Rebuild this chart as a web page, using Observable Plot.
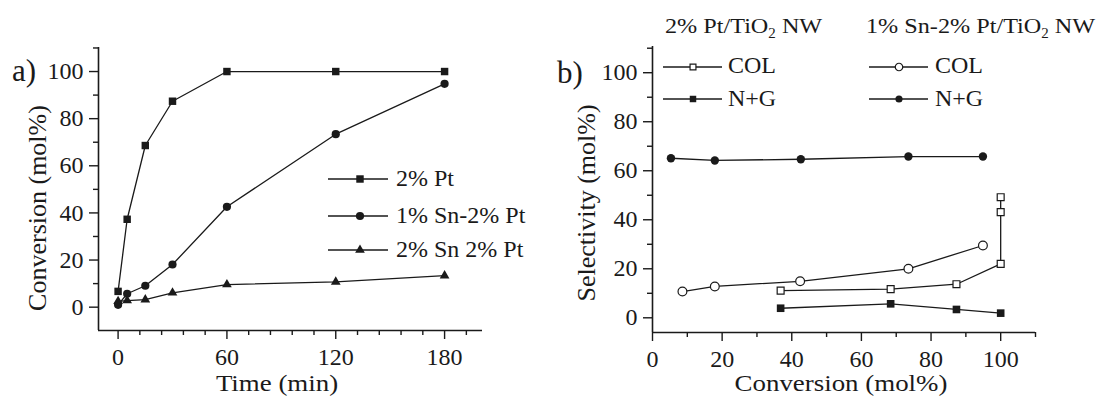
<!DOCTYPE html>
<html><head><meta charset="utf-8">
<script src="https://cdn.jsdelivr.net/npm/d3@7"></script>
<script src="https://cdn.jsdelivr.net/npm/@observablehq/plot@0.6"></script>
<style>
body{margin:0;background:#fff;}
#fig{position:relative;width:1111px;height:396px;font-family:"Liberation Serif","Times New Roman",Times,serif;color:#1a1a1a;overflow:hidden;background:#fff}
.abs{position:absolute;white-space:nowrap;line-height:1}
#fig svg.plt{position:absolute;top:0}
</style></head><body><div id="fig"></div>
<script>
// ---------- Panel a: conversion vs time ----------
const times = [0, 5, 15, 30, 60, 120, 180];
const seriesA = ["2% Pt", "1% Sn-2% Pt", "2% Sn 2% Pt"];
const convPt2 = [6.7, 37.3, 68.6, 87.4, 100, 100, 100];
const convSn1Pt2 = [1.0, 5.7, 9.1, 18.1, 42.6, 73.4, 94.8];
const convSn2Pt2 = [2.5, 2.8, 3.2, 6.1, 9.6, 10.7, 13.4];
const symbolsA = ["square", "circle", "triangle"];
const xTicksA = [0, 60, 120, 180];
const yTicks = [0, 20, 40, 60, 80, 100];

// ---------- Panel b: selectivity vs conversion ----------
const catalystsB = ["2% Pt/TiO2 NW", "1% Sn-2% Pt/TiO2 NW"];
const productsB = ["COL", "N+G"];
const ptColX = [36.8, 68.4, 87.3, 100, 100, 100];
const ptColY = [11.1, 11.7, 13.7, 22.0, 43.1, 49.2];
const ptNgX = [36.8, 68.4, 87.3, 100];
const ptNgY = [3.9, 5.7, 3.4, 1.9];
const snColX = [8.6, 17.9, 42.4, 73.5, 94.9];
const snColY = [10.7, 12.8, 14.9, 20.0, 29.5];
const snNgX = [5.3, 17.9, 42.6, 73.5, 94.9];
const snNgY = [65.1, 64.2, 64.7, 65.8, 65.8];
const xTicksB = [0, 20, 40, 60, 80, 100];

const ink = "#1a1a1a";
const serif = '"Liberation Serif","Times New Roman",Times,serif';
const fig = document.getElementById("fig");

function axes(xd, yd, xMajor, xMinor, yMajor, yMinor) {
  const common = {stroke: ink, strokeWidth: 1.4, label: null};
  return [
    Plot.axisX({...common, ticks: xMinor, tickSize: 5, tickFormat: () => ""}),
    Plot.axisX({...common, ticks: xMajor, tickSize: 9, tickPadding: 8, tickFormat: d => String(d), fill: ink}),
    Plot.axisY({...common, ticks: yMinor, tickSize: 5, tickFormat: () => ""}),
    Plot.axisY({...common, ticks: yMajor, tickSize: 9, tickPadding: 6, tickFormat: d => String(d), fill: ink}),
    Plot.ruleX([xd[0]], {stroke: ink, strokeWidth: 1.6}),
    Plot.ruleY([yd[0]], {stroke: ink, strokeWidth: 1.6})
  ];
}
const range = (a, b, s) => d3.range(a, b + 1e-9, s);

// Panel a
const valsA = [convPt2, convSn1Pt2, convSn2Pt2];
const rowsA = seriesA.map((s, i) => times.map((t, j) => ({series: s, t, v: valsA[i][j]})));
const xdA = [-10.8, 200.9], ydA = [-9.9, 110.2];
const rA = {square: 4.2, circle: 4.1, triangle: 3.6};
const plotA = Plot.plot({
  width: 555, height: 396,
  marginLeft: 98, marginRight: 73, marginTop: 47, marginBottom: 66,
  x: {domain: xdA}, y: {domain: ydA},
  style: {fontFamily: serif, fontSize: "24px", color: ink, background: "transparent", overflow: "visible"},
  marks: [
    ...axes(xdA, ydA, xTicksA, range(12, 192, 12).filter(d => d % 60), yTicks, range(10, 110, 20)),
    ...rowsA.map(r => Plot.line(r, {x: "t", y: "v", stroke: ink, strokeWidth: 1.3})),
    ...rowsA.map((r, i) => Plot.dot(r, {x: "t", y: "v", symbol: symbolsA[i], r: rA[symbolsA[i]], fill: ink, stroke: "none"}))
  ]
});
plotA.classList.add("plt");
plotA.style.left = "0px";
fig.appendChild(plotA);

// Panel b
const seriesB = [
  {x: ptColX, y: ptColY, sym: "square", open: true, r: 3.9},
  {x: ptNgX, y: ptNgY, sym: "square", open: false, r: 4.3},
  {x: snColX, y: snColY, sym: "circle", open: true, r: 4.4},
  {x: snNgX, y: snNgY, sym: "circle", open: false, r: 4.2}
].map(s => ({...s, rows: s.x.map((x, i) => ({x, y: s.y[i]}))}));
const xdB = [0, 110], ydB = [-6, 110.7];
const plotB = Plot.plot({
  width: 556, height: 396,
  marginLeft: 97, marginRight: 76, marginTop: 46, marginBottom: 64,
  x: {domain: xdB}, y: {domain: ydB},
  style: {fontFamily: serif, fontSize: "24px", color: ink, background: "transparent", overflow: "visible"},
  marks: [
    ...axes(xdB, ydB, xTicksB, range(10, 110, 20), yTicks, range(10, 110, 20)),
    ...seriesB.map(s => Plot.line(s.rows, {x: "x", y: "y", stroke: ink, strokeWidth: 1.3})),
    ...seriesB.map(s => Plot.dot(s.rows, {x: "x", y: "y", symbol: s.sym, r: s.r,
      fill: s.open ? "white" : ink, stroke: ink, strokeWidth: s.open ? 1.2 : 0}))
  ]
});
plotB.classList.add("plt");
plotB.style.left = "555px";
fig.appendChild(plotB);

// ---------- HTML text and legends ----------
function addText(html, css) {
  const d = document.createElement("div");
  d.className = "abs";
  d.innerHTML = html;
  Object.assign(d.style, css);
  fig.appendChild(d);
  return d;
}
function symPath(sym, r) {
  const type = {square: d3.symbolSquare, circle: d3.symbolCircle, triangle: d3.symbolTriangle}[sym];
  return d3.symbol(type, Math.PI * r * r)();
}
function legendRow(cx0, cx1, mx, cy, sym, r, open, label, textX, fs) {
  const svg = d3.create("svg").attr("width", cx1 - cx0 + 20).attr("height", 24)
    .style("position", "absolute").style("left", (cx0 - 10) + "px").style("top", (cy - 12) + "px");
  svg.append("line").attr("x1", 10).attr("x2", cx1 - cx0 + 10).attr("y1", 12).attr("y2", 12)
    .attr("stroke", ink).attr("stroke-width", 1.3);
  svg.append("path").attr("d", symPath(sym, r)).attr("transform", `translate(${mx - cx0 + 10},12)`)
    .attr("fill", open ? "white" : ink).attr("stroke", ink).attr("stroke-width", open ? 1.2 : 0);
  fig.appendChild(svg.node());
  addText(label, {left: textX + "px", top: (cy - fs * 0.56) + "px", fontSize: fs + "px"});
}
// legend a
const legYA = [179.3, 216, 250];
seriesA.forEach((s, i) => legendRow(328, 388, 360, legYA[i], symbolsA[i], rA[symbolsA[i]], false, s, 396, 24));
// legend b
const legColsB = [{x0: 663, x1: 722, m: 693, t: 728}, {x0: 869, x1: 928, m: 899, t: 935}];
const legYB = [66.7, 99];
seriesB.forEach((s, i) => {
  const c = legColsB[Math.floor(i / 2)];
  legendRow(c.x0, c.x1, c.m, legYB[i % 2], s.sym, s.r * 0.85, s.open, productsB[i % 2], c.t, 24);
});
// headers of panel b
const sub2 = s => s.replace("TiO2", "TiO<sub style='font-size:0.62em;vertical-align:-0.35em'>2</sub>");
addText(sub2(catalystsB[0]), {left: "665px", top: "15px", fontSize: "22px", transform: "scaleX(1.1)", transformOrigin: "left"});
addText(sub2(catalystsB[1]), {left: "866px", top: "15px", fontSize: "22px", transform: "scaleX(1.1)", transformOrigin: "left"});
// panel labels
addText("a)", {left: "12px", top: "55px", fontSize: "31px"});
addText("b)", {left: "557px", top: "57px", fontSize: "31px"});
// axis titles
const xTitleCss = {top: "370px", fontSize: "24px", lineHeight: "26.6px", transform: "translateX(-50%) scaleX(1.12)"};
addText("Time (min)", {...xTitleCss, left: "277px"});
addText("Conversion (mol%)", {...xTitleCss, left: "841px"});
addText("Conversion (mol%)", {left: "38px", top: "208px", fontSize: "26px", transform: "translate(-50%,-50%) rotate(-90deg)"});
addText("Selectivity (mol%)", {left: "587px", top: "203px", fontSize: "26px", transform: "translate(-50%,-50%) rotate(-90deg)"});
</script></body></html>
